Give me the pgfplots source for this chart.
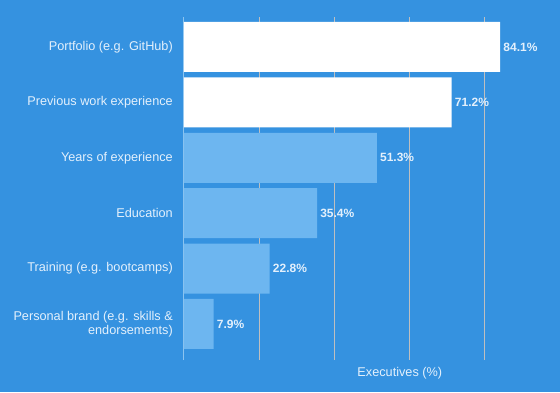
\documentclass[border=0pt]{standalone}
\usepackage{pgfplots}
\pgfplotsset{compat=1.18}
\usepackage{fontspec}
\setmainfont{Liberation Sans}
\definecolor{bg}{HTML}{3592E0}
\definecolor{lbar}{HTML}{6DB6F0}
\definecolor{grid}{HTML}{62AAE8}
\definecolor{txt}{HTML}{E3F0FC}
\definecolor{axl}{HTML}{8CC4F0}
\begin{document}
\begin{tikzpicture}[x=1pt,y=1pt]
\fill[bg] (0,0) rectangle (560,392);
\begin{axis}[
  at={(184pt,32pt)}, anchor=south west,
  scale only axis, width=376pt, height=343pt,
  xmin=0, xmax=100, ymin=-0.54, ymax=5.65,
  y dir=reverse,
  xbar, bar width=50pt, bar shift=0pt,
  /pgf/number format/assume math mode=true,
  xtick={20,40,60,80}, xticklabels={},
  xmajorgrids=true, ymajorgrids=false,
  major grid style={grid, line width=0.8pt},
  major tick length=0pt, tick style={draw=none},
  ytick={0,1,2,3,4,5},
  yticklabels={Portfolio (e.g. GitHub),Previous work experience,Years of experience,Education,Training (e.g. bootcamps),{Personal brand (e.g. skills \&\\endorsements)}},
  yticklabel style={font=\fontsize{12.7}{14.5}\selectfont, text=txt, align=right, inner sep=0pt, xshift=-11pt},
  axis lines*=left,
  x axis line style={draw=none},
  y axis line style={axl, line width=1pt, -},
  nodes near coords={\pgfmathprintnumber[fixed,precision=1,fixed zerofill]{\pgfplotspointmeta}\%},
  point meta=explicit,
  nodes near coords style={font=\fontsize{12}{14}\selectfont\bfseries, text=txt, anchor=west, inner sep=0pt, xshift=3pt},
  clip=false,
]
\addplot[draw=none, fill=white] coordinates {(84.1,0) [84.1] (71.2,1) [71.2]};
\addplot[draw=none, fill=lbar] coordinates {(51.3,2) [51.3] (35.4,3) [35.4] (22.8,4) [22.8] (7.9,5) [7.9]};
\node[text=txt, font=\fontsize{12.7}{14.5}\selectfont] at (axis description cs:0.574,-0.038) {Executives (\%)};
\end{axis}
\pgfresetboundingbox
\useasboundingbox (0,0) rectangle (560,392);
\end{tikzpicture}
\end{document}
